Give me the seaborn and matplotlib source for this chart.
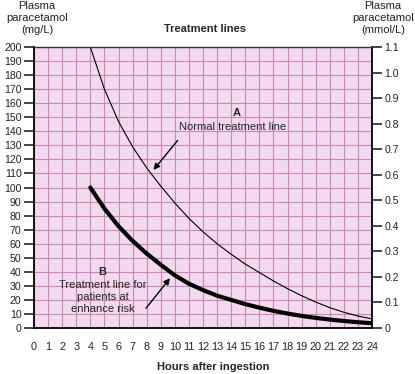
import numpy as np
import pandas as pd
import matplotlib
matplotlib.use("Agg")
import matplotlib.pyplot as plt
import seaborn as sns

# readings (mg/L at each hour after ingestion)
hours = list(range(4, 25))
normal_line = [200, 170, 147, 129, 114, 101, 89, 78, 68.5, 60, 52.5, 45.5, 39.5,
               33.5, 28, 23, 18.5, 14.5, 11.2, 8.5, 6.5]
risk_line = [100, 85, 72.5, 62, 53, 45, 37.5, 31.5, 27, 23, 20, 17, 14.5,
             12.2, 10.3, 8.6, 7.2, 6, 5, 4.1, 3.4]

x_ticks = list(range(0, 25))
y_ticks = list(range(0, 201, 10))
mmol_ticks = [round(0.1 * i, 1) for i in range(12)]
mmol_labels = ["0"] + [f"{v:.1f}" for v in mmol_ticks[1:]]

sns.set_style("white")
plt.rcParams["font.family"] = ["Liberation Sans", "DejaVu Sans"]

df = pd.DataFrame({"hours": hours, "normal": normal_line, "risk": risk_line})

fig = plt.figure(figsize=(4.15, 3.74), dpi=100)
ax = fig.add_axes([34 / 415, 1 - 328 / 374, 338 / 415, 281 / 374])
ax.set_facecolor("#f2d9ee")

sns.lineplot(data=df, x="hours", y="normal", ax=ax, color="black", linewidth=0.8)
sns.lineplot(data=df, x="hours", y="risk", ax=ax, color="black", linewidth=3.0)

ax.set_xlim(0, 24)
ax.set_ylim(0, 200)
ax.set_xticks(x_ticks)
ax.set_yticks(y_ticks)
ax.grid(True, color="#c688b8", linewidth=0.8)
ax.set_axisbelow(True)
ax.tick_params(axis="x", direction="out", length=6, width=1.2, labelsize=7.8, pad=4,
               labelcolor="#222222")
ax.tick_params(axis="y", direction="out", length=7, width=1.2, labelsize=7.6, pad=2,
               labelcolor="#222222")
ax.set_xlabel("")
ax.set_ylabel("")
for side in ["left", "bottom", "right"]:
    ax.spines[side].set_color("black")
    ax.spines[side].set_linewidth(1.3)
ax.spines["top"].set_color("#333333")
ax.spines["top"].set_linewidth(1.0)

ax2 = ax.twinx()
ax2.set_ylim(0, 1.1)
ax2.set_yticks(mmol_ticks)
ax2.set_yticklabels(mmol_labels)
ax2.tick_params(axis="y", direction="out", length=7, width=1.2, labelsize=7.6, pad=2,
                labelcolor="#222222")
for s in ax2.spines.values():
    s.set_visible(False)

# annotations
ax.text(14.4, 153, "A", fontsize=8, fontweight="bold", ha="center", va="center")
ax.text(14.1, 143, "Normal treatment line", fontsize=8, ha="center", va="center",
        color="#222222")
ax.annotate("", xy=(8.36, 111), xytext=(10.32, 135),
            arrowprops=dict(arrowstyle="-|>", color="black", lw=1.0, mutation_scale=9))

ax.text(4.88, 40, "B", fontsize=8, fontweight="bold", ha="center", va="center")
ax.text(4.9, 22, "Treatment line for\npatients at\nenhance risk", fontsize=8,
        ha="center", va="center", linespacing=1.25, color="#222222")
ax.annotate("", xy=(9.78, 37), xytext=(7.83, 12.5),
            arrowprops=dict(arrowstyle="-|>", color="black", lw=1.0, mutation_scale=9))

fig.text(205 / 415, 1 - 29 / 374, "Treatment lines", fontsize=8,
         fontweight="bold", ha="center", va="center")
fig.text(37 / 415, 1 - 18 / 374, "Plasma\nparacetamol\n(mg/L)", fontsize=8,
         ha="center", va="center", linespacing=1.3, color="#222222")
fig.text(383 / 415, 1 - 18 / 374, "Plasma\nparacetamol\n(mmol/L)", fontsize=8,
         ha="center", va="center", linespacing=1.3, color="#222222")
fig.text(213 / 415, 1 - 367 / 374, "Hours after ingestion", fontsize=8,
         fontweight="bold", ha="center", va="center")

fig.savefig("out.png", dpi=100)
